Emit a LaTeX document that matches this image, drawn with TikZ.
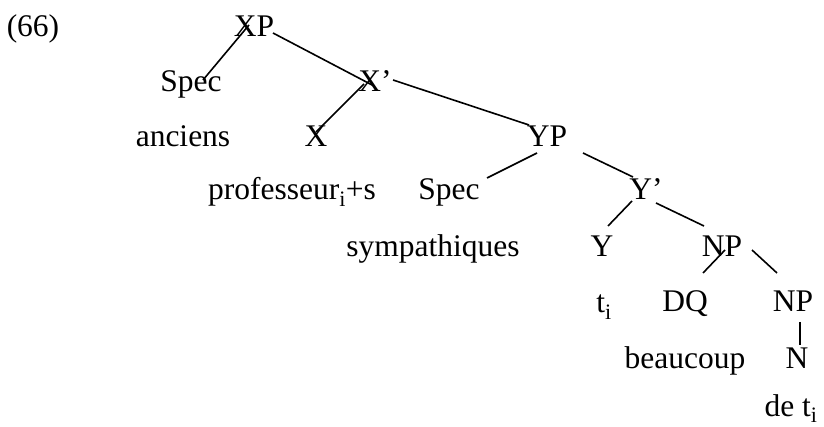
\documentclass[tikz,border=0pt]{standalone}
\usepackage{fontspec}
\setmainfont{Liberation Serif}
\begin{document}
\begin{tikzpicture}[x=1pt,y=-1pt,
  lbl/.style={anchor=base,inner sep=0pt,font=\fontsize{31.5}{38}\selectfont},
  branch/.style={line width=1.6pt}]
\useasboundingbox (0,0) rectangle (824,427);
% labels and words of the tree
\node[lbl] (ex)    at (33,37)   {(66)};
\node[lbl] (xp)    at (254,37)  {XP};
\node[lbl] (spa)   at (191,92)  {Spec};
\node[lbl] (xbar)  at (375,92)  {X’};
\node[lbl] (anc)   at (183,147) {anciens};
\node[lbl] (xh)    at (316,147) {X};
\node[lbl] (prof)  at (292,200) {professeur\textsubscript{i}+s};
\node[lbl] (yp)    at (547,147) {YP};
\node[lbl] (spb)   at (449,200) {Spec};
\node[lbl] (ybar)  at (646,200) {Y’};
\node[lbl] (symp)  at (433,257) {sympathiques};
\node[lbl] (yh)    at (602,257) {Y};
\node[lbl] (npa)   at (722,257) {NP};
\node[lbl] (ti)    at (604,313) {t\textsubscript{i}};
\node[lbl] (dq)    at (685,312) {DQ};
\node[lbl] (npb)   at (793,312) {NP};
\node[lbl] (beau)  at (685,368) {beaucoup};
\node[lbl] (nh)    at (797,368) {N};
\node[lbl] (deti)  at (791,416) {de t\textsubscript{i}};
% branch end points
\coordinate (xpL)   at (249,25);  \coordinate (spaT)  at (203,80);
\coordinate (xpR)   at (273,33);  \coordinate (xbarT) at (374,86);
\coordinate (xbarL) at (364,84);  \coordinate (xhT)   at (316,132);
\coordinate (xbarR) at (393,80);  \coordinate (ypT)   at (529,125);
\coordinate (ypL)   at (537,153); \coordinate (spbT)  at (487,178);
\coordinate (ypR)   at (583,153); \coordinate (ybarT) at (633,177);
\coordinate (ybarL) at (632,201); \coordinate (yhT)   at (608,226);
\coordinate (ybarR) at (656,203); \coordinate (npaT)  at (704,226);
\coordinate (npaL)  at (725,250); \coordinate (dqT)   at (703,273);
\coordinate (npaR)  at (752,250); \coordinate (npbT)  at (777,273);
\coordinate (npbB)  at (800,322); \coordinate (nhT)   at (800,345);
% branches
\draw[branch] (xpL) -- (spaT);
\draw[branch] (xpR) -- (xbarT);
\draw[branch] (xbarL) -- (xhT);
\draw[branch] (xbarR) -- (ypT);
\draw[branch] (ypL) -- (spbT);
\draw[branch] (ypR) -- (ybarT);
\draw[branch] (ybarL) -- (yhT);
\draw[branch] (ybarR) -- (npaT);
\draw[branch] (npaL) -- (dqT);
\draw[branch] (npaR) -- (npbT);
\draw[branch] (npbB) -- (nhT);
\end{tikzpicture}
\end{document}
